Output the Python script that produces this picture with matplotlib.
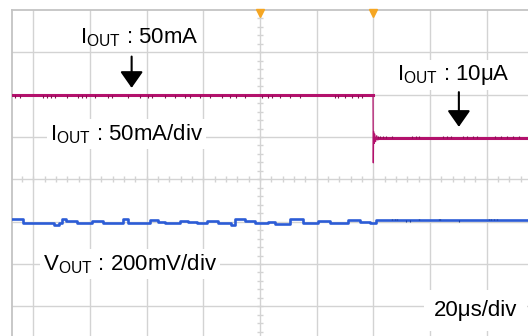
import numpy as np
import matplotlib
matplotlib.use("Agg")
import matplotlib.pyplot as plt

plt.rcParams['font.family'] = ['Liberation Sans', 'DejaVu Sans']
plt.rcParams['mathtext.fontset'] = 'custom'
plt.rcParams['mathtext.rm'] = 'Liberation Sans'

# time in us (20us/div), screen centre at 80us
# IOUT channel, 50mA/div
iout_t = [-8, 119.9]
iout_mA = [51, 51]
iout_t2 = [120.4, 175]
iout_mA2 = [0, 0]
# load step edge with ringing
edge_t = [119.9, 120.0, 120.1, 120.3, 120.5, 120.8, 121.2, 121.6, 122.0]
edge_mA = [51, -29, 8, -6, 5, -4, 3, -2, 0]
# small spikes on the trace
iout_glitch_t = [-6.5, -4.7, 3.4, 4.8, 6.2, 7.6, 11.9, 15.8, 17.2, 18.6, 21.8, 26.4,
                 27.8, 33.4, 37.6, 40.5, 41.9, 46.5, 50.0, 53.5, 55.3, 58.8, 62.4,
                 66.6, 69.4, 71.5, 74.7, 80.7, 82.8, 84.2, 87.1, 90.6, 94.1, 106.5,
                 107.5, 110.0, 112.5, 114.6, 116.0]
iout_glitch2_t = [121.5, 122.5, 123.4, 124.6, 126.5, 133.6, 134.9, 136.3, 144.7, 146.1,
                  147.5, 151.8, 153.2, 155.3, 156.7, 163.1, 165.2, 167.3, 169.4, 171.5]

# VOUT channel, 200mV/div (deviation from offset)
vout_t = [-8, -3.6, 7.3, 9.1, 10.1, 11.5, 15.4, 20.7, 24.6, 31.6, 33.4, 41.2, 44.0,
          46.5, 51.8, 54.6, 57.8, 61.3, 65.2, 69.8, 71.2, 74.7, 78.2, 82.8, 85.3,
          90.6, 95.2, 100.5, 104.7, 111.1, 115.3, 118.8, 120.9, 175]
vout_mV = [5, -11, -20, -11, 6, -3, -14, -2, -11, 5, -11, 0, -7, -14, -2, -8, -14,
           -2, -11, -20, 6, -2, -11, -7, -16, 5, -11, -2, -11, 0, -9, -14, 0, 0]
vout_glitch_t = [126.5, 127.5, 128.5, 136.0, 143.1, 143.5, 160.8, 161.5, 162.5, 163.5]
vout_glitch_mV = [7, 7, 7, 6, 7, 7, 7, 7, 7, 7]
vout_glitch_lo_t = [131.4, 132.8, 150.2]

iout_off = 0.97   # div
vout_off = -0.97  # div

trig_t = [80, 120]

fig = plt.figure(figsize=(5.28, 3.36), dpi=100)
ax = fig.add_axes([11.7 / 528, 0, 1 - 11.7 / 528, 326 / 336])
ax.set_xlim(-7.63, 174.6)
ax.set_ylim(-3.70, 4.0)

grid_c = '#d3d3d3'
for s in ['right', 'bottom']:
    ax.spines[s].set_visible(False)
for s in ['left', 'top']:
    ax.spines[s].set_color('#c4c4c4')
    ax.spines[s].set_linewidth(1.3)
ax.set_xticks([])
ax.set_yticks([])

for xv in np.arange(0, 180, 20):
    ax.axvline(xv, color=grid_c, lw=1.0, zorder=0)
for yv in np.arange(-3, 4, 1):
    ax.axhline(yv, color=grid_c, lw=1.0, zorder=0)
# minor ticks on centre axes
ax.vlines(np.arange(-4, 176, 4), -0.07, 0.07, color=grid_c, lw=1.0, zorder=0)
ax.hlines(np.arange(-3.6, 4.0, 0.2), 80 - 1.1, 80 + 1.1, color=grid_c, lw=1.0, zorder=0)

mag = '#b3116c'
blue = '#2c5cd6'

ax.plot(iout_t, np.array(iout_mA) / 50 + iout_off, color=mag, lw=2.2, zorder=3)
ax.plot(iout_t2, np.array(iout_mA2) / 50 + iout_off, color=mag, lw=2.2, zorder=3)
ax.plot(edge_t, np.array(edge_mA) / 50 + iout_off, color=mag, lw=0.9, zorder=3)
ax.vlines(iout_glitch_t, 51 / 50 + iout_off, 51 / 50 + iout_off - 0.065, color='#8a0c52', lw=0.8, zorder=3)
ax.vlines(iout_glitch2_t, iout_off, iout_off + 0.065, color='#8a0c52', lw=0.8, zorder=3)

ax.step(vout_t, np.array(vout_mV) / 200 + vout_off, where='post', color=blue, lw=1.9, zorder=3)
ax.vlines(vout_glitch_t, vout_off, vout_off + np.array(vout_glitch_mV) / 200, color='#1b3f9c', lw=1.0, zorder=3)
ax.vlines(vout_glitch_lo_t, vout_off, vout_off - 0.04, color='#1b3f9c', lw=0.8, zorder=3)

ax.plot(trig_t, [3.93, 3.93], 'v', color='#f5a623', ms=6, clip_on=False, zorder=4)

fs = 16
box = dict(boxstyle='square,pad=0.15', fc='white', ec='none')
ax.text(16.5, 3.22, r'$\mathregular{I_{OUT}}$ : 50mA', fontsize=fs, va='baseline', zorder=5)
ax.text(5.9, 0.93, r'$\mathregular{I_{OUT}}$ : 50mA/div', fontsize=fs, va='baseline', bbox=box, zorder=5)
ax.text(128.5, 2.35, r'$\mathregular{I_{OUT}}$ : 10μA', fontsize=fs, va='baseline', bbox=box, zorder=5)
ax.text(3.4, -2.14, r'$\mathregular{V_{OUT}}$ : 200mV/div', fontsize=fs, va='baseline', bbox=box, zorder=5)
ax.text(141.4, -3.23, '20μs/div', fontsize=fs, va='baseline', zorder=5,
        bbox=dict(boxstyle='square,pad=0.45', fc='white', ec='none'))

arr = dict(arrowstyle='-|>,head_length=1.0,head_width=0.7', lw=1.5, color='black',
           shrinkA=0, shrinkB=0, mutation_scale=10)
ax.annotate('', xy=(34.7, 2.16), xytext=(34.7, 2.90), arrowprops=arr, zorder=5)
ax.annotate('', xy=(150.2, 1.24), xytext=(150.2, 2.06), arrowprops=arr, zorder=5)

fig.savefig('out.png', dpi=100)
